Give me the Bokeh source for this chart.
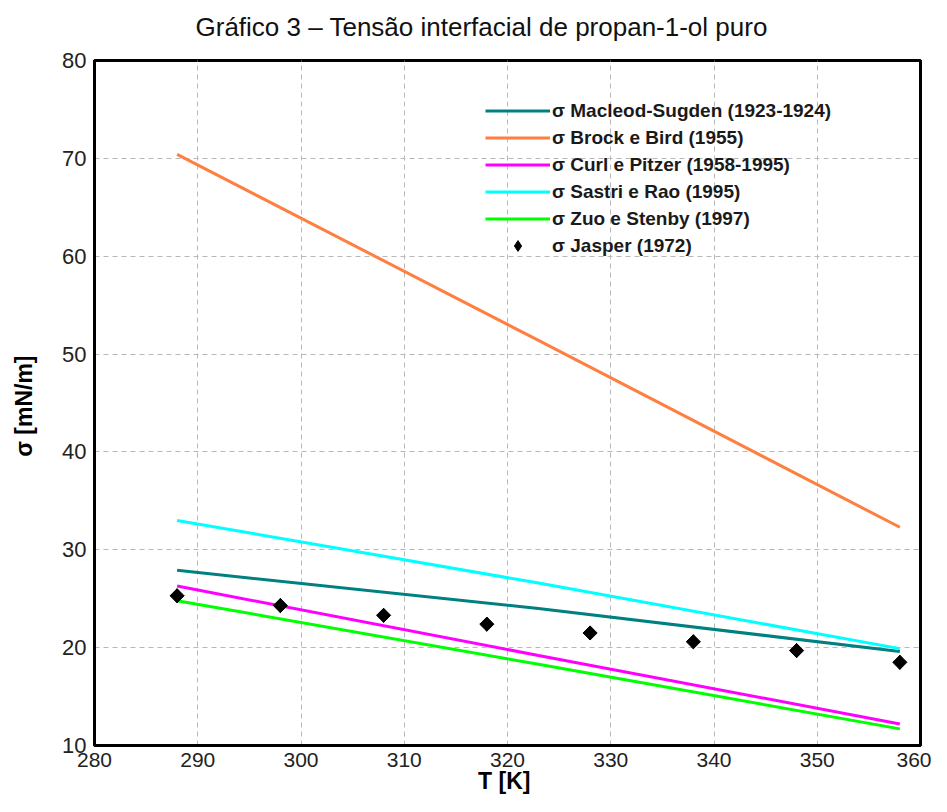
import math
from bokeh.plotting import figure
from bokeh.models import Range1d, FixedTicker, Legend, LegendItem, Title
from bokeh.embed import file_html
from bokeh.resources import INLINE

# ---- data ----
T_lines = [288, 323, 358]
macleod = [27.9, 24.0, 19.6]
brock = [70.4, 51.4, 32.3]
curl = [26.3, 19.2, 12.2]
sastri = [33.0, 26.6, 19.9]
zuo = [24.8, 18.3, 11.7]

jasper_T = [288, 298, 308, 318, 328, 338, 348, 358]
jasper = [25.3, 24.3, 23.3, 22.4, 21.5, 20.6, 19.7, 18.5]

x_ticks = [280, 290, 300, 310, 320, 330, 340, 350, 360]
y_ticks = [10, 20, 30, 40, 50, 60, 70, 80]

title_text = "Gráfico 3 – Tensão interfacial de propan-1-ol puro"
labels = ["σ Macleod-Sugden (1923-1924)", "σ Brock e Bird (1955)",
          "σ Curl e Pitzer (1958-1995)", "σ Sastri e Rao (1995)",
          "σ Zuo e Stenby (1997)", "σ Jasper (1972)"]
colors = ["#008080", "#ff7f40", "#ff00ff", "#00ffff", "#00ff00"]
series = [macleod, brock, curl, sastri, zuo]

FONT = "Liberation Sans"

p = figure(width=931, height=796, output_backend="svg", toolbar_location=None,
           title=None,
           x_range=Range1d(280, 360), y_range=Range1d(10, 80),
           min_border_left=94, min_border_right=11, min_border_top=60, min_border_bottom=50)

# spacer between frame and title, then the title itself
p.add_layout(Title(text="\u00a0", text_font_size="11px", standoff=0), "above")
p.add_layout(Title(text=title_text, align="left", offset=101, text_font=FONT,
                   text_font_size="26px", text_font_style="normal",
                   text_color="#111111"), "above")

items = []
for ys, c, lab in zip(series, colors, labels[:5]):
    r = p.line(T_lines, ys, line_color=c, line_width=3)
    items.append(LegendItem(label=lab, renderers=[r]))
# points: a diamond underneath, a 45-degree square on top (regular diamond shape)
rj_leg = p.scatter(jasper_T, jasper, marker="diamond", size=14,
                   fill_color="black", line_color="black")
p.scatter(jasper_T, jasper, marker="square", angle=math.pi / 4, size=10,
          fill_color="black", line_color="black")
items.append(LegendItem(label=labels[5], renderers=[rj_leg]))

legend = Legend(items=items, location=(391, 486), padding=0, margin=0,
                border_line_color=None, background_fill_alpha=0,
                glyph_width=65, glyph_height=27, label_height=20, spacing=0,
                label_standoff=2, label_text_font=FONT, label_text_font_size="19px",
                label_text_font_style="bold", label_text_color="#1a1a1a")
p.add_layout(legend, "center")

p.outline_line_color = "black"
p.outline_line_width = 3
p.outline_line_alpha = 1

for ax in (p.xaxis[0], p.yaxis[0]):
    ax.axis_line_color = "black"
    ax.axis_line_width = 3
    ax.major_tick_line_color = None
    ax.minor_tick_line_color = None
    ax.major_tick_out = 0
    ax.major_tick_in = 0
    ax.minor_tick_out = 0
    ax.minor_tick_in = 0
    ax.major_label_text_font = FONT
    ax.major_label_text_font_size = "21px"
    ax.major_label_text_color = "#222222"
    ax.axis_label_text_font = FONT
    ax.axis_label_text_font_style = "bold"
    ax.axis_label_text_color = "#000000"

p.yaxis.major_label_text_font_size = "22px"
p.xaxis.ticker = FixedTicker(ticks=x_ticks)
p.yaxis.ticker = FixedTicker(ticks=y_ticks)
p.xaxis.axis_label = "T  [K]"
p.yaxis.axis_label = "σ  [mN/m]"
p.xaxis.axis_label_text_font_size = "23px"
p.yaxis.axis_label_text_font_size = "23px"
p.xaxis.major_label_standoff = 7
p.yaxis.major_label_standoff = 8
p.xaxis.axis_label_standoff = -2
p.yaxis.axis_label_standoff = 22

for g in (p.xgrid[0], p.ygrid[0]):
    g.grid_line_color = "#b8b8b8"
    g.grid_line_dash = "5 4"
    g.grid_line_width = 1

p.background_fill_color = "white"
p.border_fill_color = "white"

open("out.html", "w").write(file_html(p, INLINE))
